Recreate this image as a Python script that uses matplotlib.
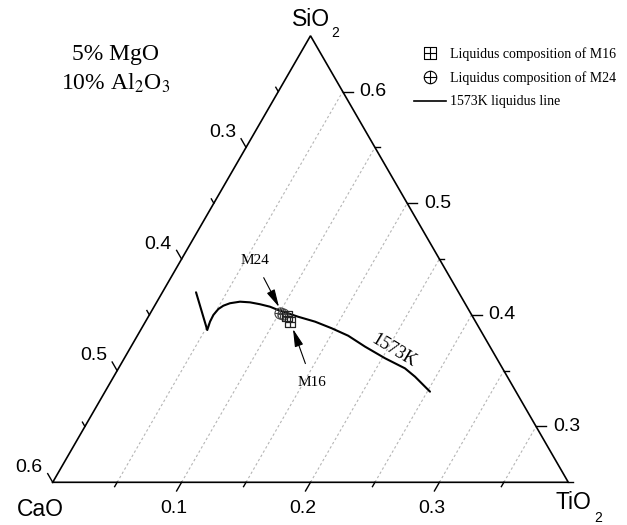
import numpy as np
import matplotlib
matplotlib.use("Agg")
import matplotlib.pyplot as plt
from matplotlib.path import Path
from matplotlib.lines import Line2D

# ---------------- data (mass fractions; 5 % MgO + 10 % Al2O3 fixed) ----------------
total = 0.85
cao_min, sio2_min, tio2_min = 0.20, 0.25, 0.00
span = 0.40

cao_ticks = [0.25, 0.30, 0.35, 0.40, 0.45, 0.50, 0.55, 0.60]
sio2_ticks = [0.25, 0.30, 0.35, 0.40, 0.45, 0.50, 0.55, 0.60]
tio2_ticks = [0.05, 0.10, 0.15, 0.20, 0.25, 0.30, 0.35]
cao_labels = [0.3, 0.4, 0.5, 0.6]
sio2_labels = [0.3, 0.4, 0.5, 0.6]
tio2_labels = [0.1, 0.2, 0.3]
grid_tio2 = [0.05, 0.10, 0.15, 0.20, 0.25, 0.30, 0.35]

# 1573 K liquidus line
liq_sio2 = [0.4202, 0.3864, 0.3939, 0.3999, 0.4052, 0.4082, 0.4104, 0.4118,
            0.4112, 0.4095, 0.4073, 0.4043, 0.3983, 0.3939, 0.3880, 0.3813,
            0.3715, 0.3611, 0.3521, 0.3446, 0.3312]
liq_tio2 = [0.0261, 0.0517, 0.0501, 0.0497, 0.0509, 0.0533, 0.0573, 0.0644,
            0.0725, 0.0811, 0.0899, 0.0978, 0.1163, 0.1316, 0.1474, 0.1636,
            0.1816, 0.2023, 0.2222, 0.2338, 0.2521]

# liquidus compositions
m24_sio2 = [0.4014, 0.4008]
m24_tio2 = [0.1006, 0.1033]
m16_sio2 = [0.3993, 0.3939]
m16_tio2 = [0.1069, 0.1122]


def to_xy(sio2, tio2):
    sio2 = np.asarray(sio2, float)
    tio2 = np.asarray(tio2, float)
    c = (sio2 - sio2_min) / span
    b = (tio2 - tio2_min) / span
    return b + c / 2.0, c * np.sqrt(3) / 2.0


# pixel helpers (for text placement only)
X0, Y0, SC = 52.7, 482.3, 515.6
W, H = 627, 525


def P(px, py):
    return (px - X0) / SC, (Y0 - py) / SC


u = 1.0 / SC

fig = plt.figure(figsize=(W / 100, H / 100), dpi=100)
ax = fig.add_axes([0, 0, 1, 1])
ax.set_xlim(-X0 / SC, (W - X0) / SC)
ax.set_ylim(-(H - Y0) / SC, Y0 / SC)
ax.axis("off")

sans = "Liberation Sans"
serif = "Liberation Serif"

# grid lines (constant TiO2)
for t in grid_tio2:
    xs, ys = to_xy([sio2_min, total - cao_min - t], [t, t])
    ax.plot(xs, ys, color="#b5b5b5", lw=0.8, ls=(0, (2.2, 2.2)), zorder=1)

# triangle
tx, ty = to_xy([sio2_min, sio2_min, total - cao_min, sio2_min],
               [0.0, total - cao_min - sio2_min, 0.0, 0.0])
ax.plot(tx, ty, color="black", lw=1.2, zorder=3, solid_joinstyle="miter")

s3 = np.sqrt(3) / 2


def is_major(v):
    return abs(v * 10 - round(v * 10)) < 1e-6


# CaO ticks (left edge, pointing up-left)
for v in cao_ticks:
    x, y = to_xy(total - v, 0.0)
    L = (10 if is_major(v) else 5) * u
    ax.plot([x, x - 0.5 * L], [y, y + s3 * L], color="black", lw=1.0, zorder=3)
for v in cao_labels:
    x, y = to_xy(total - v, 0.0)
    ax.text(x - 10 * u, y + 15 * u, f"{v:.1f}", ha="right", va="center",
            fontsize=14, family=sans)

# SiO2 ticks (right edge, pointing right)
for v in sio2_ticks:
    x, y = to_xy(v, total - cao_min - v)
    L = (10 if is_major(v) else 5) * u
    ax.plot([x, x + L], [y, y], color="black", lw=1.0, zorder=3)
for v in sio2_labels:
    x, y = to_xy(v, total - cao_min - v)
    ax.text(x + 17 * u, y, f"{v:.1f}", ha="left", va="center",
            fontsize=14, family=sans)

# TiO2 ticks (bottom edge, pointing down-left)
for v in tio2_ticks:
    x, y = to_xy(sio2_min, v)
    L = (10 if is_major(v) else 5) * u
    ax.plot([x, x - 0.5 * L], [y, y - s3 * L], color="black", lw=1.0, zorder=3)
for v in tio2_labels:
    x, y = to_xy(sio2_min, v)
    ax.text(x - 8 * u, y - 26 * u, f"{v:.1f}", ha="center", va="center",
            fontsize=14, family=sans)

# vertex titles
ax.text(*P(17, 516), "CaO", ha="left", va="baseline", fontsize=16.5, family=sans)
ax.text(*P(556, 509), "TiO", ha="left", va="baseline", fontsize=16.5, family=sans)
ax.text(*P(594, 522), "2", ha="left", va="baseline", fontsize=10, family=sans)
ax.text(*P(292, 25.5), "SiO", ha="left", va="baseline", fontsize=16.5, family=sans)
ax.text(*P(331, 37), "2", ha="left", va="baseline", fontsize=10, family=sans)

# composition note
ax.text(*P(116, 60), "5% MgO", ha="center", va="baseline", fontsize=17, family=serif)
ax.text(*P(116, 90), "10% Al$_2$O$_3$", ha="center", va="baseline", fontsize=17,
        family=serif, math_fontfamily="stix")

# liquidus line
lx, ly = to_xy(liq_sio2, liq_tio2)
ax.plot(lx, ly, color="black", lw=1.5, zorder=4, solid_joinstyle="round",
        solid_capstyle="round")

# markers
sq_plus = Path([(-1, -1), (1, -1), (1, 1), (-1, 1), (-1, -1),
                (-1, 0), (1, 0), (0, -1), (0, 1)],
               [Path.MOVETO, Path.LINETO, Path.LINETO, Path.LINETO, Path.CLOSEPOLY,
                Path.MOVETO, Path.LINETO, Path.MOVETO, Path.LINETO])
circ = Path.unit_circle()
circ_plus = Path.make_compound_path(
    circ,
    Path([(-1, 0), (1, 0)], [Path.MOVETO, Path.LINETO]),
    Path([(0, -1), (0, 1)], [Path.MOVETO, Path.LINETO]))

mx, my = to_xy(m24_sio2, m24_tio2)
ax.plot(mx, my, ls="none", marker=circ_plus, ms=8, mfc="none", mec="#444444",
        mew=0.8, zorder=5)
mx, my = to_xy(m16_sio2, m16_tio2)
ax.plot(mx, my, ls="none", marker=sq_plus, ms=7, mfc="none", mec="#222222",
        mew=0.9, zorder=5)

# annotations
arrow = dict(arrowstyle="-|>,head_length=0.9,head_width=0.22", color="black",
             lw=0.8, mutation_scale=12)
ax.annotate("M24", xy=P(279, 307), xytext=P(255, 261), ha="center", va="center",
            fontsize=11, family=serif,
            arrowprops=dict(arrow, shrinkA=6, shrinkB=0))
ax.annotate("M16", xy=P(293, 329), xytext=P(312, 382), ha="center", va="center",
            fontsize=11, family=serif,
            arrowprops=dict(arrow, shrinkA=7, shrinkB=0))

ax.text(*P(394, 351), "1573K", rotation=-31, rotation_mode="anchor",
        ha="center", va="center", fontsize=13, family=serif)

# legend
handles = [
    Line2D([], [], ls="none", marker=sq_plus, ms=8, mfc="none", mec="black", mew=0.8),
    Line2D([], [], ls="none", marker=circ_plus, ms=9, mfc="none", mec="black", mew=0.8),
    Line2D([], [], color="black", lw=1.2),
]
labels = ["Liquidus composition of M16", "Liquidus composition of M24",
          "1573K liquidus line"]
leg = ax.legend(handles, labels, loc="upper left",
                bbox_to_anchor=(414 / W, 1 - 47 / H), bbox_transform=fig.transFigure,
                frameon=False, prop=dict(family=serif, size=10),
                handlelength=2.3, handletextpad=0.3, labelspacing=0.75,
                borderpad=0, borderaxespad=0)

fig.savefig("out.png", dpi=100)
